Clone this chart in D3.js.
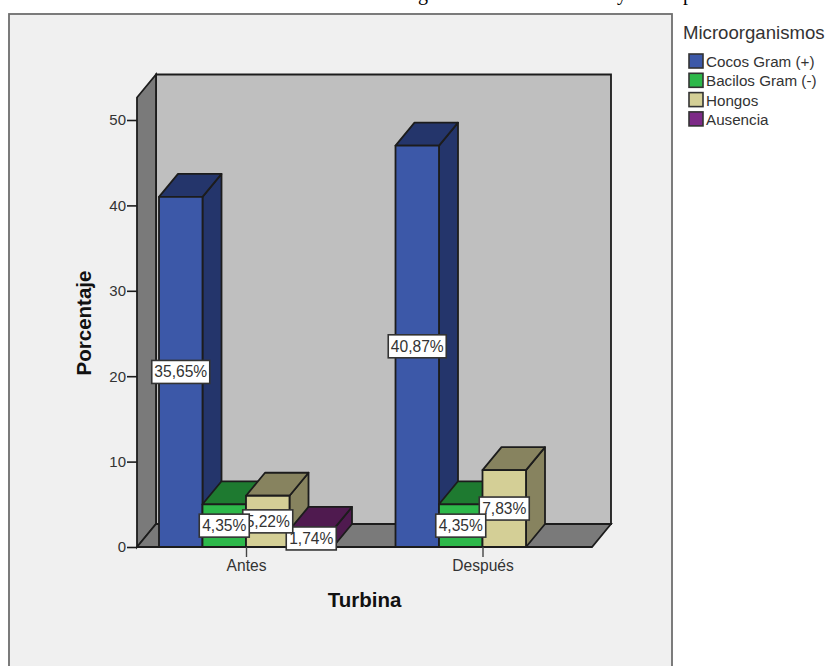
<!DOCTYPE html>
<html lang="es">
<head>
<meta charset="utf-8">
<script src="https://cdnjs.cloudflare.com/ajax/libs/d3/7.8.5/d3.min.js"></script>
<style>
  html, body { margin: 0; padding: 0; background: #fff; overflow: hidden; }
  svg { display: block; }
  text { font-family: "Liberation Sans", Arial, sans-serif; fill: #333; }
</style>
</head>
<body>
<svg id="chart" width="826" height="666"></svg>
<script>
const categories = ["Antes", "Después"];
const seriesNames = ["Cocos Gram (+)", "Bacilos Gram (-)", "Hongos", "Ausencia"];
const cocosGram = [35.65, 40.87];
const bacilosGram = [4.35, 4.35];
const hongos = [5.22, 7.83];
const ausencia = [1.74, null];
const yTicks = [0, 10, 20, 30, 40, 50];

// The axis counts the 115 cases while the labels give their share in percent.
const totalCases = 115;
const seriesValues = [cocosGram, bacilosGram, hongos, ausencia];

const frontColors = ["#3c58a8", "#2db84a", "#d4cf96", "#7d2a87"];
const shadeColors = ["#24356b", "#1e7a30", "#87835f", "#4f1a4f"];
const edge = "#1c1c1c";
const depthX = 19, depthY = -23;

const svg = d3.select("#chart");
const y = d3.scaleLinear().domain([0, 50]).range([547, 120]);
const xCat = d3.scalePoint().domain(categories).range([246, 482.5]);
const xSeries = d3.scaleBand().domain(seriesNames).range([-87, 87]);

const baseY = y(0), floorL = 137, floorR = 592;
const poly = pts => pts.map(p => p.join(",")).join(" ");

// Chart frame, open at the bottom edge of the page
svg.append("rect").attr("x", 9).attr("y", 14).attr("width", 663).attr("height", 670)
  .attr("fill", "#f0f0f0").attr("stroke", "#6e6e6e").attr("stroke-width", 1.8);

// Fragments of the line of text running above the frame
[["g", 423], ["y", 622], ["p", 688]].forEach(([ch, px]) => {
  svg.append("text").attr("x", px).attr("y", -0.5).attr("text-anchor", "middle")
    .style("font-family", '"Liberation Serif", serif').style("font-size", "20px")
    .style("fill", "#000").text(ch);
});

// Back wall, side wall and floor of the 3D box
const wallTop = 74.5;
const sideTop = wallTop - depthY;
svg.append("polygon")
  .attr("points", poly([[floorL + depthX, wallTop], [floorR + depthX, wallTop], [floorR + depthX, baseY + depthY], [floorL + depthX, baseY + depthY]]))
  .attr("fill", "#bfbfbf").attr("stroke", edge).attr("stroke-width", 1.8);
svg.append("polygon")
  .attr("points", poly([[floorL, sideTop], [floorL + depthX, wallTop], [floorL + depthX, baseY + depthY], [floorL, baseY]]))
  .attr("fill", "#7a7a7a").attr("stroke", edge).attr("stroke-width", 1.8);
svg.append("polygon")
  .attr("points", poly([[floorL, baseY], [floorL + depthX, baseY + depthY], [floorR + depthX, baseY + depthY], [floorR, baseY]]))
  .attr("fill", "#7a7a7a").attr("stroke", edge).attr("stroke-width", 1.8);

// Flatten the arrays into one record per bar, with the bar height in axis units
const bars = [];
categories.forEach((cat, c) => {
  seriesNames.forEach((name, s) => {
    const value = seriesValues[s][c];
    if (value === null) return;
    bars.push({ cat, name, s, value, axisValue: value * totalCases / 100 });
  });
});

// Bars are painted left to right so that later tops overlap earlier sides
const barGroups = svg.append("g").selectAll("g").data(bars).join("g")
  .attr("stroke", edge).attr("stroke-width", 1.8).attr("stroke-linejoin", "round");

barGroups.each(function (d) {
  const g = d3.select(this);
  const x0 = xCat(d.cat) + xSeries(d.name);
  const x1 = x0 + xSeries.bandwidth();
  const top = y(d.axisValue);
  g.append("polygon")
    .attr("points", poly([[x1, top], [x1 + depthX, top + depthY], [x1 + depthX, baseY + depthY], [x1, baseY]]))
    .attr("fill", shadeColors[d.s]);
  g.append("polygon")
    .attr("points", poly([[x0, top], [x0 + depthX, top + depthY], [x1 + depthX, top + depthY], [x1, top]]))
    .attr("fill", shadeColors[d.s]);
  g.append("rect")
    .attr("x", x0).attr("y", top).attr("width", x1 - x0).attr("height", baseY - top)
    .attr("fill", frontColors[d.s]);
});

// Y axis: ticks and labels
const yAxis = svg.append("g").attr("transform", `translate(${floorL},0)`)
  .call(d3.axisLeft(y).tickValues(yTicks).tickSize(10).tickPadding(1));
yAxis.select(".domain").remove();
yAxis.selectAll("line").attr("stroke", edge).attr("stroke-width", 1.6);
yAxis.selectAll("text").style("font-size", "15px").style("font-family", '"Liberation Sans", Arial, sans-serif').style("fill", "#333");

// X axis: category ticks and labels
const xAxis = svg.append("g").attr("transform", `translate(0,${baseY})`)
  .call(d3.axisBottom(xCat).tickSize(10).tickPadding(3));
xAxis.select(".domain").remove();
xAxis.selectAll("line").attr("stroke", "#444").attr("stroke-width", 1.4);
xAxis.selectAll("text").style("font-size", "15.6px").style("font-family", '"Liberation Sans", Arial, sans-serif').style("fill", "#333");

// Axis titles
svg.append("text").attr("x", 364.5).attr("y", 607).attr("text-anchor", "middle")
  .style("font-size", "20.5px").style("font-weight", "bold").style("fill", "#111").text("Turbina");
svg.append("text").attr("transform", "translate(91,323) rotate(-90)").attr("text-anchor", "middle")
  .style("font-size", "20.5px").style("font-weight", "bold").style("fill", "#111").text("Porcentaje");

// Value labels, last series first so the earlier boxes end up on top
const labels = svg.append("g").selectAll("g")
  .data(bars.slice().sort((a, b) => b.s - a.s))
  .join("g")
  .attr("transform", d => {
    const cx = xCat(d.cat) + xSeries(d.name) + xSeries.bandwidth() / 2;
    return `translate(${cx},${(y(d.axisValue) + baseY) / 2})`;
  });
labels.each(function (d) {
  const text = d.value.toFixed(2).replace(".", ",") + "%";
  const w = text.length === 6 ? 58 : 50;
  const g = d3.select(this);
  g.append("rect").attr("x", -w / 2).attr("y", -11.5).attr("width", w).attr("height", 23)
    .attr("fill", "#fff").attr("stroke", "#333").attr("stroke-width", 1.6);
  g.append("text").attr("text-anchor", "middle").attr("y", 5.5)
    .style("font-size", "15.6px").text(text);
});

// Legend
svg.append("text").attr("x", 683).attr("y", 39).style("font-size", "18.6px").text("Microorganismos");
const legend = svg.append("g").selectAll("g").data(seriesNames).join("g")
  .attr("transform", (d, i) => `translate(689,${54 + i * 19.3})`);
legend.append("rect").attr("width", 14).attr("height", 14)
  .attr("fill", (d, i) => frontColors[i]).attr("stroke", "#333").attr("stroke-width", 1.6);
legend.append("text").attr("x", 17).attr("y", 13).style("font-size", "15.2px").text(d => d);
</script>
</body>
</html>
